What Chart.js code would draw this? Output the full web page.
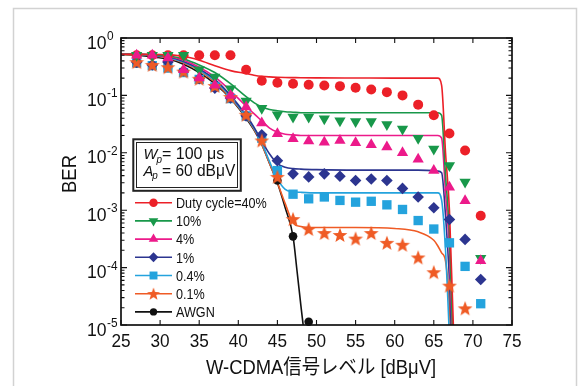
<!DOCTYPE html>
<html>
<head>
<meta charset="utf-8">
<title>BER - W-CDMA</title>
<script src="https://cdn.jsdelivr.net/npm/chart.js"></script>
<style>
  html, body { margin: 0; padding: 0; background: #fff; }
  canvas { display: block; }
</style>
</head>
<body>
<canvas id="ber" width="579" height="386"></canvas>
<script>
// measured points (every 2 dBuV)
const signalX = [27, 29, 31, 33, 35, 37, 39, 41, 43, 45, 47, 49, 51, 53, 55, 57, 59, 61, 63, 65, 67, 69, 71];
const ber40 = [0.5, 0.5, 0.5, 0.5, 0.5, 0.5, 0.5, 0.28, 0.18, 0.166, 0.16, 0.153, 0.149, 0.145, 0.136, 0.127, 0.114, 0.1, 0.069, 0.045, 0.0217, 0.011, 0.0008];
const ber10 = [0.5, 0.5, 0.5, 0.5, 0.28, 0.21, 0.13, 0.08, 0.06, 0.046, 0.042, 0.042, 0.039, 0.036, 0.035, 0.035, 0.031, 0.026, 0.018, 0.0117, 0.006, 0.0031, 0.000146];
const ber4 = [0.5, 0.5, 0.45, 0.28, 0.2, 0.15, 0.1, 0.063, 0.033, 0.0214, 0.0175, 0.016, 0.0153, 0.0164, 0.0149, 0.0138, 0.0126, 0.01, 0.0077, 0.0049, 0.0025, 0.00146, 0.000132];
const ber1 = [0.38, 0.34, 0.38, 0.27, 0.195, 0.134, 0.09, 0.044, 0.0206, 0.0073, 0.0043, 0.0038, 0.0043, 0.0039, 0.0033, 0.0035, 0.0033, 0.0024, 0.0017, 0.0011, 0.00069, 0.00031, 0.000062];
const ber04 = [0.37, 0.33, 0.3, 0.25, 0.19, 0.14, 0.088, 0.044, 0.018, 0.0049, 0.0019, 0.00158, 0.0017, 0.00148, 0.00138, 0.00143, 0.00124, 0.00103, 0.00066, 0.00047, 0.00027, 0.000105, 0.0000235];
const ber01 = [0.38, 0.34, 0.31, 0.26, 0.195, 0.146, 0.094, 0.046, 0.0164, 0.0038, 0.0007, 0.00047, 0.0004, 0.00037, 0.00032, 0.0004, 0.00027, 0.00025, 0.00015, 0.000083, 0.0000485, 0.0000195, null];
const berAwgn = [0.36, 0.33, 0.3, 0.25, 0.19, 0.14, 0.088, 0.043, 0.017, 0.0033, 0.00035, 0.0000114, null, null, null, null, null, null, null, null, null, null, null];

// calculated curves
const curveX = [25, 27, 29, 31, 33, 35, 37, 39, 41, 42, 43, 44, 45, 46, 47, 48, 50, 55, 60, 63, 65, 65.5, 66, 66.5, 67, 67.5, 68];
const curve40 = [0.52, 0.52, 0.52, 0.51, 0.48, 0.41, 0.33, 0.27, 0.24, 0.225, 0.215, 0.21, 0.207, 0.205, 0.204, 0.203, 0.202, 0.201, 0.2, 0.2, 0.2, 0.2, 0.15, 0.01, 0.001, 0.00001, 0.0000003];
const curve10 = [0.52, 0.52, 0.51, 0.49, 0.43, 0.34, 0.25, 0.16, 0.095, 0.075, 0.063, 0.057, 0.054, 0.052, 0.051, 0.05, 0.05, 0.05, 0.05, 0.05, 0.05, 0.05, 0.045, 0.004, 0.0004, 0.000003, 0.0000001];
const curve4 = [0.52, 0.52, 0.51, 0.48, 0.41, 0.31, 0.21, 0.12, 0.065, 0.048, 0.036, 0.027, 0.023, 0.021, 0.0205, 0.02, 0.02, 0.02, 0.02, 0.02, 0.02, 0.02, 0.018, 0.002, 0.0002, 0.000002, 0.0000001];
const curve1 = [0.52, 0.52, 0.5, 0.47, 0.39, 0.29, 0.19, 0.1, 0.045, 0.028, 0.016, 0.0095, 0.0065, 0.0056, 0.0053, 0.0052, 0.0051, 0.005, 0.005, 0.005, 0.0049, 0.0048, 0.0045, 0.0008, 0.00006, 0.000001, 0.0000001];
const curve04 = [0.52, 0.52, 0.5, 0.46, 0.38, 0.28, 0.18, 0.095, 0.043, 0.027, 0.015, 0.007, 0.0035, 0.0023, 0.0021, 0.00205, 0.002, 0.002, 0.002, 0.002, 0.002, 0.002, 0.0015, 0.0002, 0.000006, 0.0000001, 0.00000001];
const curve01 = [0.52, 0.51, 0.49, 0.45, 0.37, 0.27, 0.17, 0.09, 0.042, 0.026, 0.014, 0.0065, 0.003, 0.0013, 0.0006, 0.00052, 0.0005, 0.0005, 0.00048, 0.00042, 0.0003, 0.00024, 0.00018, 0.00013, 0.00002, 0.0000003, 0.00000001];
const awgnX = [25, 27, 29, 31, 33, 35, 37, 39, 41, 42, 43, 44, 45, 46, 47, 47.5, 48, 48.5, 49];
const awgnCurve = [0.52, 0.5, 0.47, 0.43, 0.35, 0.25, 0.16, 0.088, 0.04, 0.025, 0.014, 0.0065, 0.003, 0.0011, 0.00035, 0.00009, 0.000022, 0.0000056, 0.000001];

const legendLabels = ['Duty cycle=40%', '10%', '4%', '1%', '0.4%', '0.1%', 'AWGN'];
const xTitle = 'W-CDMA信号レベル [dBμV]';
const yTitle = 'BER';

const FONT = '"Liberation Sans", Arial, "Noto Sans CJK JP", sans-serif';

function starImage(color) {
  const cv = document.createElement('canvas');
  cv.width = 16; cv.height = 16;
  const g = cv.getContext('2d');
  g.beginPath();
  for (let i = 0; i < 10; i++) {
    const r = i % 2 ? 3.3 : 7.8;
    const a = -Math.PI / 2 + i * Math.PI / 5;
    g.lineTo(8 + r * Math.cos(a), 8.6 + r * Math.sin(a));
  }
  g.closePath();
  g.fillStyle = color;
  g.fill();
  return cv;
}

const starImg = starImage('#ef5b25');

const series = [
  { label: legendLabels[0], color: '#ec2028', marks: ber40, cx: curveX, cy: curve40, style: 'circle', r: 5 },
  { label: legendLabels[1], color: '#18984a', marks: ber10, cx: curveX, cy: curve10, style: 'triangle', rot: 180, r: 6.5 },
  { label: legendLabels[2], color: '#ec1a8a', marks: ber4, cx: curveX, cy: curve4, style: 'triangle', rot: 0, r: 6.5 },
  { label: legendLabels[3], color: '#2c3590', marks: ber1, cx: curveX, cy: curve1, style: 'rectRot', r: 5.8 },
  { label: legendLabels[4], color: '#24a3dd', marks: ber04, cx: curveX, cy: curve04, style: 'rect', r: 6.6 },
  { label: legendLabels[5], color: '#ef5b25', marks: ber01, cx: curveX, cy: curve01, style: 'star', r: 8 },
  { label: legendLabels[6], color: '#111111', marks: berAwgn, cx: awgnX, cy: awgnCurve, style: 'circle', r: 4.3 }
];

// marker stacking, first = on top
const markOrder = [2, 1, 0, 5, 3, 4, 6];

const datasets = [];
markOrder.forEach(i => {
  const s = series[i];
  datasets.push({
    label: s.label,
    data: signalX.map((x, k) => ({ x: x, y: s.marks[k] })),
    showLine: false,
    pointStyle: s.style === 'star' ? starImg : s.style,
    pointRotation: s.rot || 0,
    pointRadius: s.r,
    pointBackgroundColor: s.color,
    pointBorderColor: s.color,
    pointBorderWidth: 0,
    clip: false,
    order: 0
  });
});
series.forEach(s => {
  datasets.push({
    label: s.label + ' (calc)',
    data: s.cx.map((x, k) => ({ x: x, y: s.cy[k] })),
    showLine: true,
    borderColor: s.color,
    borderWidth: 1.6,
    pointRadius: 0,
    cubicInterpolationMode: 'monotone',
    fill: false,
    order: 1
  });
});

function put(c, s, x, y, size, align, opt) {
  opt = opt || {};
  const sx = opt.sx || 0.9;
  c.save();
  c.translate(x, y);
  if (opt.rot) c.rotate(opt.rot);
  c.scale(sx, 1);
  c.font = (opt.italic ? 'italic ' : '') + size + 'px ' + FONT;
  c.textAlign = align;
  c.textBaseline = 'alphabetic';
  c.fillStyle = '#111';
  c.fillText(s, 0, 0);
  const w = c.measureText(s).width * sx;
  c.restore();
  return w;
}

function drawMark(c, s, x, y, k) {
  c.fillStyle = s.color;
  const r = s.r * k;
  if (s.style === 'star') {
    c.drawImage(starImg, x - 8 * k, y - 8 * k, 16 * k, 16 * k);
    return;
  }
  c.beginPath();
  if (s.style === 'circle') {
    c.arc(x, y, r, 0, Math.PI * 2);
  } else if (s.style === 'triangle') {
    const d = s.rot ? -1 : 1;
    c.moveTo(x, y - d * r);
    c.lineTo(x + 0.866 * r, y + d * 0.5 * r);
    c.lineTo(x - 0.866 * r, y + d * 0.5 * r);
  } else if (s.style === 'rectRot') {
    c.moveTo(x, y - r); c.lineTo(x + r, y); c.lineTo(x, y + r); c.lineTo(x - r, y);
  } else {
    const h = r * Math.SQRT1_2;
    c.rect(x - h, y - h, 2 * h, 2 * h);
  }
  c.closePath();
  c.fill();
}

const decor = {
  id: 'decor',
  beforeDraw(chart) {
    const c = chart.ctx;
    c.save();
    c.fillStyle = '#fff';
    c.fillRect(0, 0, chart.width, chart.height);
    c.strokeStyle = '#d2d2d2';
    c.lineWidth = 1.5;
    c.strokeRect(13.5, 8.5, 563, 400);
    c.restore();
  },
  afterDraw(chart) {
    const c = chart.ctx, a = chart.chartArea;
    const xs = chart.scales.x, ys = chart.scales.y;
    c.save();

    // plot frame
    c.strokeStyle = '#111';
    c.lineWidth = 1.7;
    c.strokeRect(a.left, a.top, a.right - a.left, a.bottom - a.top);

    // x ticks (inward) and labels
    c.lineWidth = 1.1;
    xs.ticks.forEach(t => {
      const px = xs.getPixelForValue(t.value);
      c.beginPath();
      c.moveTo(px, a.bottom); c.lineTo(px, a.bottom - 5);
      c.moveTo(px, a.top); c.lineTo(px, a.top + 5);
      c.stroke();
      put(c, String(t.value), px, 346.8, 18.5, 'center', { sx: 0.93 });
    });

    // y ticks (log, inward both sides) and labels
    const e0 = Math.round(Math.log10(ys.min)), e1 = Math.round(Math.log10(ys.max));
    for (let e = e0; e <= e1; e++) {
      for (let m = 1; m <= 9; m++) {
        if (e === e1 && m > 1) break;
        const py = ys.getPixelForValue(m * Math.pow(10, e));
        const len = m === 1 ? 6 : 3.5;
        c.beginPath();
        c.moveTo(a.left, py); c.lineTo(a.left + len, py);
        c.moveTo(a.right, py); c.lineTo(a.right - len, py);
        c.stroke();
        if (m === 1) {
          const w = put(c, '10', 87, py + 10.5, 18.5, 'left', { sx: 0.95 });
          put(c, String(e), 87 + w + 0.5, py + 2, 12.5, 'left', { sx: 0.95 });
        }
      }
    }

    // axis titles
    put(c, xTitle, 321, 373.8, 20, 'center', { sx: 0.92 });
    put(c, yTitle, 75.5, 174, 21, 'center', { sx: 0.88, rot: -Math.PI / 2 });

    // parameter box
    c.fillStyle = '#fff';
    c.fillRect(132, 138, 110, 54);
    c.strokeStyle = '#222';
    c.lineWidth = 2;
    c.strokeRect(133.3, 139.3, 107.5, 51.5);
    c.lineWidth = 1;
    c.strokeRect(136.5, 142.5, 101, 45);
    let w = put(c, 'W', 143.5, 159, 15.5, 'left', { italic: true, sx: 0.95 });
    put(c, 'p', 143.5 + w - 1, 162.5, 11, 'left', { italic: true });
    put(c, '= 100 μs', 162, 159, 16, 'left', { sx: 1 });
    w = put(c, 'A', 143.5, 175.5, 15.5, 'left', { italic: true, sx: 0.95 });
    put(c, 'p', 143.5 + w - 1, 179, 11, 'left', { italic: true });
    put(c, '= 60 dBμV', 162, 175.5, 16, 'left', { sx: 0.97 });

    // legend: line + marker + label
    series.forEach((s, i) => {
      const y = 202.7 + i * 18.2;
      c.strokeStyle = s.color;
      c.lineWidth = 1.6;
      c.beginPath();
      c.moveTo(135, y); c.lineTo(172, y);
      c.stroke();
      drawMark(c, s, 153.5, y, 0.85);
      put(c, s.label, 176, y + 5.2, 14.5, 'left', { sx: 0.87 });
    });

    c.restore();
  }
};

new Chart(document.getElementById('ber').getContext('2d'), {
  type: 'line',
  data: { datasets: datasets },
  options: {
    responsive: false,
    animation: false,
    devicePixelRatio: 1,
    layout: { padding: { left: 0, top: 38, right: 67, bottom: 0 } },
    plugins: { legend: { display: false }, tooltip: { enabled: false } },
    scales: {
      x: {
        type: 'linear',
        min: 25,
        max: 75,
        ticks: { display: false, stepSize: 5 },
        grid: { display: false },
        border: { display: false },
        afterFit: s => { s.height = 61; }
      },
      y: {
        type: 'logarithmic',
        min: 0.00001,
        max: 1,
        ticks: { display: false },
        grid: { display: false },
        border: { display: false },
        afterFit: s => { s.width = 121; }
      }
    }
  },
  plugins: [decor]
});
</script>
</body>
</html>
